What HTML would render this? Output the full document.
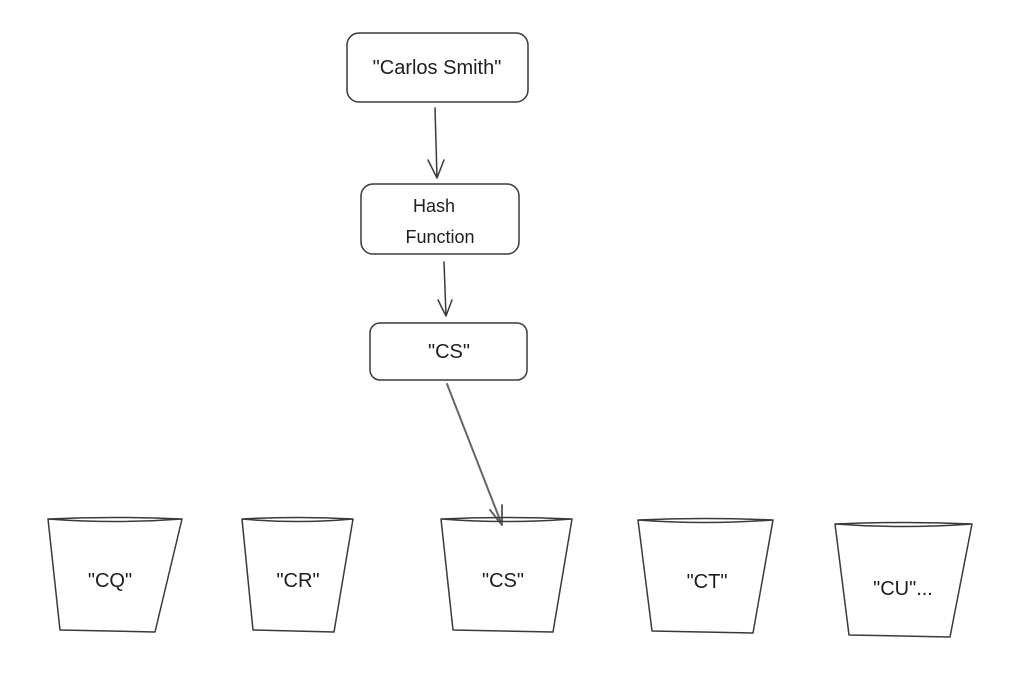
<!DOCTYPE html>
<html><head><meta charset="utf-8"><style>
html,body{margin:0;padding:0;background:#fff;}
svg text{font-family:"Liberation Sans","DejaVu Sans",sans-serif;fill:#1e1e1e;}
</style></head><body>
<svg width="1035" height="670" viewBox="0 0 1035 670" xmlns="http://www.w3.org/2000/svg">
<g fill="none" stroke="#3a3a3a" stroke-width="1.5" stroke-linecap="round" stroke-linejoin="round">
<rect x="347" y="33" width="181" height="69" rx="12"/>
<rect x="361" y="184" width="158" height="70" rx="12"/>
<rect x="370" y="323" width="157" height="57" rx="10"/>
<path d="M435 108 L437 178 M428 160 L437 178 L444 160"/>
<path d="M444 262 L446 316 M438 300 L446 316 L452 300"/>
<path d="M447 384 L502 525 M490 510 L502 525 L502 505" stroke="#666" stroke-width="2"/>
<path d="M48 519 Q115 516 182 519 Q115 524 48 519 M48 519 L60 630 L155 632 L182 519"/>
<path d="M242 519 Q298 516 353 519 Q298 524 242 519 M242 519 L253 630 L334 632 L353 519"/>
<path d="M441 519 Q506 516 572 519 Q506 524 441 519 M441 519 L453 630 L553 632 L572 519"/>
<path d="M638 520 Q705 517 773 520 Q705 525 638 520 M638 520 L652 631 L753 633 L773 520"/>
<path d="M835 524 Q903 521 972 524 Q903 529 835 524 M835 524 L849 635 L950 637 L972 524"/>
</g>
<g font-size="20" text-anchor="middle">
<text x="437" y="74">"Carlos Smith"</text>
<text x="434" y="212" font-size="18">Hash</text>
<text x="440" y="243" font-size="18">Function</text>
<text x="449" y="358">"CS"</text>
<text x="110" y="587">"CQ"</text>
<text x="298" y="587">"CR"</text>
<text x="503" y="587">"CS"</text>
<text x="707" y="588">"CT"</text>
<text x="903" y="595">"CU"...</text>
</g>
</svg>
</body></html>
